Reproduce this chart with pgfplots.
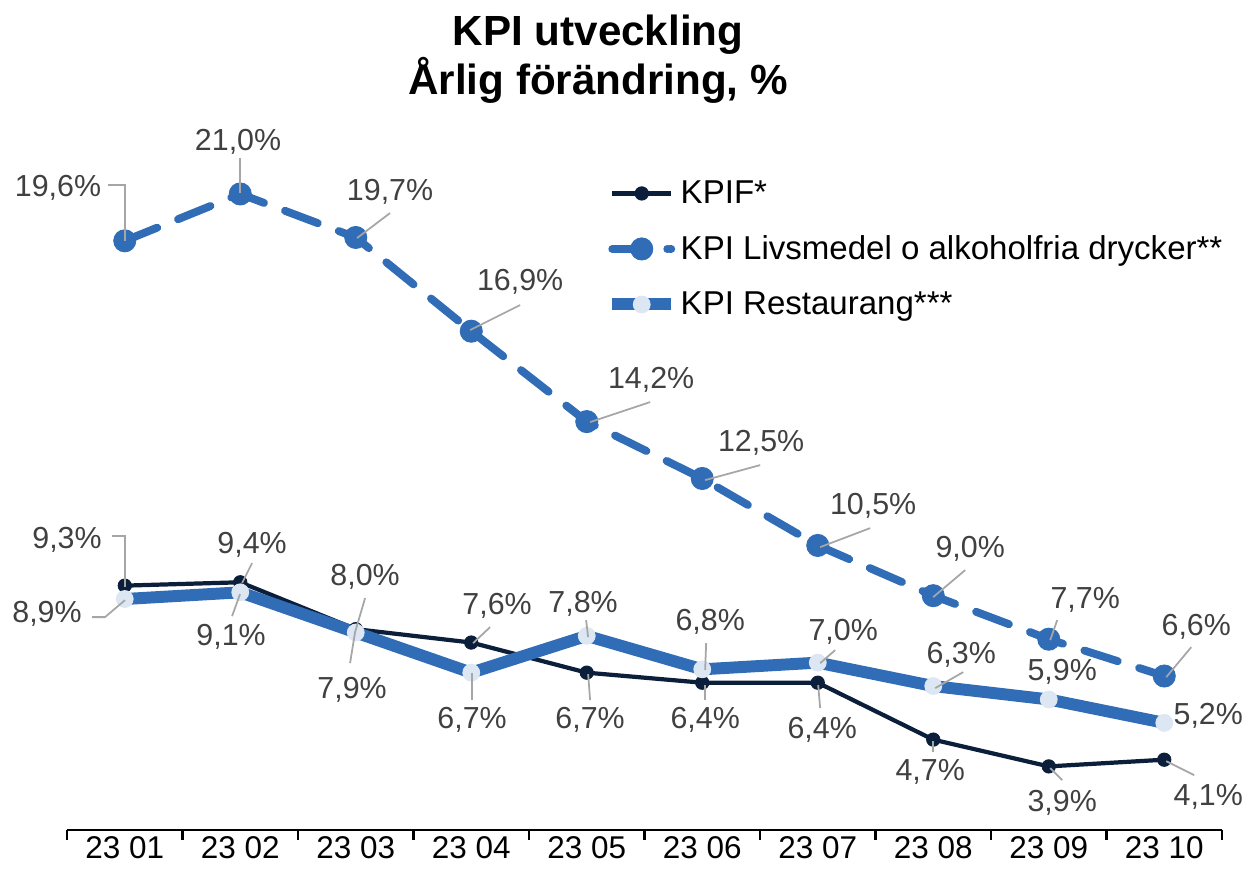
\documentclass[border=0pt]{standalone}
\usepackage{fontspec}
\setmainfont{Liberation Sans}
\usepackage{pgfplots}
\pgfplotsset{compat=1.18}
\definecolor{navy}{HTML}{0B1F3A}
\definecolor{kblue}{HTML}{306DB6}
\definecolor{klight}{HTML}{DDE6F3}
\definecolor{lbl}{HTML}{404040}
\definecolor{lead}{HTML}{A6A6A6}
\newcommand{\lf}{\fontsize{17.3}{20}\selectfont}
\newcommand{\tf}{\fontsize{17.9}{21}\selectfont}
\newcommand{\gf}{\fontsize{18.8}{22}\selectfont}
\begin{document}
\begin{tikzpicture}
\path[use as bounding box] (0,0) rectangle (25cm,-17.5cm);
\begin{axis}[
  at={(1.34cm,-16.6cm)}, anchor=south west,
  scale only axis, width=23.1cm, height=14.06cm,
  xmin=-0.5, xmax=9.5, ymin=2, ymax=23,
  clip=false,
  axis x line*=bottom, axis y line=none,
  axis line style={-, line width=1.6pt, black},
  xtick={0,...,9},
  xticklabels={23 01,23 02,23 03,23 04,23 05,23 06,23 07,23 08,23 09,23 10},
  major tick length=0pt,
  minor xtick={-0.5,0.5,...,9.5},
  minor tick length=0.2cm,
  tick align=outside,
  minor tick style={line width=1.6pt, black},
  xticklabel style={font=\tf, text=black},
  legend image code/.code={\draw[mark repeat=2,mark phase=2] plot coordinates {(0cm,0cm) (0.59cm,0cm) (1.18cm,0cm)};},
  legend style={at={(0.4666,0.929)}, anchor=north west, draw=none, fill=none,
    inner sep=0pt, font=\gf, row sep=12.8pt, cells={anchor=west}},
]
\addplot[navy, line width=2.4pt, mark=*, mark size=3.8pt, mark options={solid, fill=navy, line width=0.5pt}]
  coordinates {(0,9.3) (1,9.4) (2,8.0) (3,7.6) (4,6.7) (5,6.4) (6,6.4) (7,4.7) (8,3.9) (9,4.1)};
\addlegendentry{KPIF*}
\addplot[kblue, line width=4.5pt, line cap=round, dash pattern=on 0.7cm off 0.45cm, mark=*, mark size=6.3pt, mark options={solid, fill=kblue, line width=0.5pt},
  legend image code/.code={%
    \draw[dash pattern=on 0.5cm off 0.52cm on 0.08cm off 2cm] (0.08cm,0cm) -- (1.1cm,0cm);
    \draw[mark repeat=2,mark phase=2] plot[draw=none] coordinates {(0cm,0cm) (0.59cm,0cm) (1.18cm,0cm)};}]
  coordinates {(0,19.6) (1,21.0) (2,19.7) (3,16.9) (4,14.2) (5,12.5) (6,10.5) (7,9.0) (8,7.7) (9,6.6)};
\addlegendentry{KPI Livsmedel o alkoholfria drycker**}
\addplot[kblue, line width=6.8pt, mark=*, mark size=4.8pt, mark options={solid, fill=klight, draw=klight, line width=0.5pt}]
  coordinates {(0,8.9) (1,9.1) (2,7.9) (3,6.7) (4,7.8) (5,6.8) (6,7.0) (7,6.3) (8,5.9) (9,5.2)};
\addlegendentry{KPI Restaurang***}
\end{axis}
\begin{scope}[x=0.02cm, y=-0.02cm]
  \node[font=\bfseries\fontsize{24}{28}\selectfont] at (598,35) {KPI utveckling};
  \node[font=\bfseries\fontsize{24}{28}\selectfont] at (598,80) {Årlig förändring, \%};
  \begin{scope}[lead, line width=1pt]
    % Livsmedel
    \draw (108,185) -- (125,185) -- (125,241);
    \draw (240,158) -- (240,193);
    \draw (390,213) -- (357,238);
    \draw (520,305) -- (470,330);
    \draw (650,402) -- (590,422);
    \draw (760,465) -- (705,480);
    \draw (870,528) -- (820,547);
    \draw (965,570) -- (933,597);
    \draw (1057,620) -- (1050,640);
    \draw (1191,647) -- (1166,677);
    % KPIF
    \draw (112,536) -- (125,536) -- (125,587);
    \draw (252,563) -- (242,583);
    \draw (365,598) -- (355,632);
    \draw (490,627) -- (473,643);
    \draw (590,700) -- (588,674);
    \draw (705,700) -- (705,685);
    \draw (820,708) -- (818,685);
    \draw (933,752) -- (933,741);
    \draw (1062,780) -- (1050,768);
    \draw (1194,775) -- (1166,761);
    % Restaurang
    \draw (92,617) -- (105,617) -- (125,600);
    \draw (232,616) -- (240,594);
    \draw (355,632) -- (350,663);
    \draw (472,673) -- (472,700);
    \draw (586,620) -- (588,637);
    \draw (706,643) -- (705,670);
    \draw (835,650) -- (820,663);
    \draw (963,672) -- (935,688);
  \end{scope}
  \begin{scope}[every node/.style={font=\lf, text=lbl}]
    % Livsmedel
    \node at (58,188) {19,6\%};
    \node at (238,142) {21,0\%};
    \node at (390,192) {19,7\%};
    \node at (520,282) {16,9\%};
    \node at (651,380) {14,2\%};
    \node at (761,443) {12,5\%};
    \node at (873,506) {10,5\%};
    \node at (970,549) {9,0\%};
    \node at (1085,600) {7,7\%};
    \node at (1196,627) {6,6\%};
    % KPIF
    \node at (67,540) {9,3\%};
    \node at (252,545) {9,4\%};
    \node at (365,577) {8,0\%};
    \node at (497,606) {7,6\%};
    \node at (590,720) {6,7\%};
    \node at (705,720) {6,4\%};
    \node at (822,730) {6,4\%};
    \node at (930,772) {4,7\%};
    \node at (1062,803) {3,9\%};
    \node at (1208,797) {4,1\%};
    % Restaurang
    \node at (47,614) {8,9\%};
    \node at (231,637) {9,1\%};
    \node at (352,690) {7,9\%};
    \node at (472,720) {6,7\%};
    \node at (583,604) {7,8\%};
    \node at (710,622) {6,8\%};
    \node at (843,632) {7,0\%};
    \node at (961,655) {6,3\%};
    \node at (1062,672) {5,9\%};
    \node at (1208,716) {5,2\%};
  \end{scope}
\end{scope}
\end{tikzpicture}
\end{document}
